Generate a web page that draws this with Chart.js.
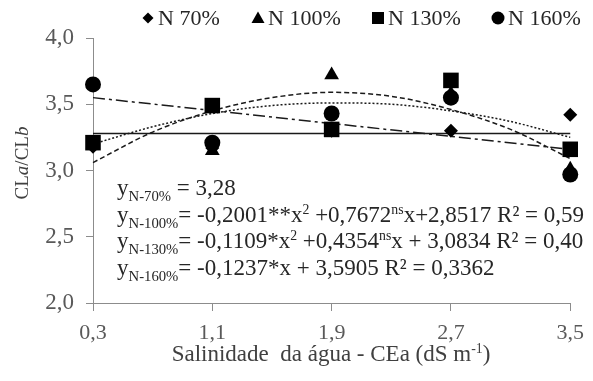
<!DOCTYPE html>
<html>
<head>
<meta charset="utf-8">
<title>CLa/CLb</title>
<script src="https://cdn.jsdelivr.net/npm/chart.js@4.4.1/dist/chart.umd.min.js"></script>
<style>
    html, body { margin: 0; padding: 0; background: #ffffff; }
    canvas { display: block; }
</style>
</head>
<body>
<canvas id="clChart" width="593" height="381"></canvas>
<script>

// =============================
// Data
// =============================

const salinity = [0.3, 1.1, 1.9, 2.7, 3.5];
const xTickLabels = ["0,3", "1,1", "1,9", "2,7", "3,5"];

const yTickValues = [2.0, 2.5, 3.0, 3.5, 4.0];
const yTickLabels = ["2,0", "2,5", "3,0", "3,5", "4,0"];

const seriesNames = ["N 70%", "N 100%", "N 130%", "N 160%"];

const n70 = [3.18, 3.17, 3.30, 3.30, 3.42];
const n100 = [3.20, 3.15, 3.72, 3.58, 3.01];
const n130 = [3.21, 3.49, 3.31, 3.68, 3.16];
const n160 = [3.65, 3.21, 3.43, 3.55, 2.97];

// trend lines
const lineEnds = [0.3, 3.5];
const curveX = [0.3, 0.7, 1.1, 1.5, 1.9, 2.3, 2.7, 3.1, 3.5];

const trend70 = [3.28, 3.28];
const trend100 = [3.06, 3.29, 3.45, 3.55, 3.59, 3.56, 3.46, 3.31, 3.09];
const trend130 = [3.20, 3.33, 3.43, 3.49, 3.51, 3.50, 3.45, 3.37, 3.25];
const trend160 = [3.55, 3.16];

// equations: [text, kind]  kind = "" | "sub" | "sup"
const equations = [
    [["y", ""], ["N-70%", "sub"], [" = 3,28", ""]],
    [["y", ""], ["N-100%", "sub"], ["= -0,2001**x", ""], ["2", "sup"], [" +0,7672", ""], ["ns", "sup"], ["x+2,8517 R\u00b2 = 0,59", ""]],
    [["y", ""], ["N-130%", "sub"], ["= -0,1109*x", ""], ["2", "sup"], [" +0,4354", ""], ["ns", "sup"], ["x + 3,0834 R\u00b2 = 0,40", ""]],
    [["y", ""], ["N-160%", "sub"], ["= -0,1237*x + 3,5905 R\u00b2 = 0,3362", ""]]
];

const yTitle = [["CL", ""], ["a", "i"], ["/CL", ""], ["b", "i"]];
const xTitle = [["Salinidade  da \u00e1gua - CEa (dS m", ""], ["-1", "sup"], [")", ""]];


// =============================
// Helpers
// =============================

const SERIF = "'Liberation Serif', 'Times New Roman', serif";

function toPoints(xs, ys) {
    return xs.map((x, i) => ({ x: x, y: ys[i] }));
}

function segFont(kind, size) {
    let fs = size;
    let style = kind === "i" ? "italic " : "";
    if (kind === "sub") fs = size * 0.64;
    if (kind === "sup") fs = size * 0.6;
    return style + fs + "px " + SERIF;
}

function drawRich(ctx, segs, x, y, size) {
    let cx = x;
    segs.forEach(([txt, kind]) => {
        let dy = 0;
        if (kind === "sub") dy = size * 0.24;
        if (kind === "sup") dy = -size * 0.36;
        ctx.font = segFont(kind, size);
        ctx.fillText(txt, cx, y + dy);
        cx += ctx.measureText(txt).width;
    });
    return cx - x;
}

function richWidth(ctx, segs, size) {
    let w = 0;
    segs.forEach(([txt, kind]) => {
        ctx.font = segFont(kind, size);
        w += ctx.measureText(txt).width;
    });
    return w;
}

function drawMarker(ctx, style, x, y) {
    ctx.beginPath();
    if (style === "rectRot") {
        ctx.moveTo(x - 5.5, y); ctx.lineTo(x, y - 5.5); ctx.lineTo(x + 5.5, y); ctx.lineTo(x, y + 5.5);
    } else if (style === "triangle") {
        ctx.moveTo(x, y - 6.5); ctx.lineTo(x + 6.5, y + 5); ctx.lineTo(x - 6.5, y + 5);
    } else if (style === "rect") {
        ctx.rect(x - 6, y - 6, 12, 12);
    } else {
        ctx.arc(x, y, 6.5, 0, Math.PI * 2);
    }
    ctx.closePath();
    ctx.fill();
}


// =============================
// Text plugin (legend, equations, titles)
// =============================

const markerStyles = ["rectRot", "triangle", "rect", "circle"];
const legendX = [148, 258, 378, 498];

const textPlugin = {
    id: "textPlugin",
    afterDraw(chart) {
        const ctx = chart.ctx;
        ctx.save();
        ctx.textBaseline = "alphabetic";
        ctx.textAlign = "left";

        // legend
        seriesNames.forEach((name, i) => {
            ctx.fillStyle = "#000000";
            drawMarker(ctx, markerStyles[i], legendX[i], 18);
            ctx.fillStyle = "#262626";
            ctx.font = "22px " + SERIF;
            ctx.fillText(name, legendX[i] + 10, 25);
        });

        // equations
        ctx.fillStyle = "#262626";
        const baselines = [195, 222, 248, 275];
        equations.forEach((eq, i) => {
            drawRich(ctx, eq, 117, baselines[i], 23);
        });

        // x title
        ctx.fillStyle = "#404040";
        const xw = richWidth(ctx, xTitle, 23);
        drawRich(ctx, xTitle, 331 - xw / 2, 361, 23);

        // y title
        ctx.translate(28, 163);
        ctx.rotate(-Math.PI / 2);
        const yw = richWidth(ctx, yTitle, 19);
        drawRich(ctx, yTitle, -yw / 2, 0, 19);

        ctx.restore();
    }
};


// =============================
// Chart
// =============================

const lineColor = "#1a1a1a";

function scatterSet(label, values, style, radius) {
    return {
        type: "scatter",
        label: label,
        data: toPoints(salinity, values),
        pointStyle: style,
        pointRadius: radius,
        pointHoverRadius: radius,
        backgroundColor: "#000000",
        borderColor: "#000000",
        borderWidth: 0,
        clip: false
    };
}

function trendSet(label, xs, values, dash) {
    return {
        type: "line",
        label: label,
        data: toPoints(xs, values),
        borderColor: lineColor,
        borderWidth: 1.5,
        borderDash: dash,
        pointRadius: 0,
        tension: 0.4,
        cubicInterpolationMode: "monotone",
        fill: false,
        clip: false
    };
}

new Chart(document.getElementById("clChart"), {
    data: {
        datasets: [
            scatterSet(seriesNames[0], n70, "rectRot", 7),
            scatterSet(seriesNames[1], n100, "triangle", 8.5),
            scatterSet(seriesNames[2], n130, "rect", 11),
            scatterSet(seriesNames[3], n160, "circle", 8),
            trendSet("trend 70", lineEnds, trend70, []),
            trendSet("trend 100", curveX, trend100, [5, 3]),
            trendSet("trend 130", curveX, trend130, [2, 2]),
            trendSet("trend 160", lineEnds, trend160, [12, 4, 3, 4])
        ]
    },
    options: {
        responsive: false,
        animation: false,
        layout: {
            padding: { top: 38, right: 14, left: 0, bottom: 0 }
        },
        plugins: {
            legend: { display: false },
            tooltip: { enabled: false }
        },
        scales: {
            x: {
                type: "linear",
                min: 0.3,
                max: 3.5,
                afterBuildTicks: (s) => { s.ticks = salinity.map(v => ({ value: v })); },
                afterFit: (s) => { s.height = 78; },
                ticks: {
                    callback: (v, i) => xTickLabels[i],
                    color: "#595959",
                    font: { family: SERIF, size: 22 },
                    padding: 9,
                    maxRotation: 0
                },
                grid: {
                    drawOnChartArea: false,
                    drawTicks: true,
                    tickLength: 8,
                    color: "#8c8c8c"
                },
                border: { color: "#8c8c8c", width: 1 }
            },
            y: {
                type: "linear",
                min: 2,
                max: 4,
                afterBuildTicks: (s) => { s.ticks = yTickValues.map(v => ({ value: v })); },
                afterFit: (s) => { s.width = 93; },
                ticks: {
                    callback: (v, i) => yTickLabels[i],
                    color: "#595959",
                    font: { family: SERIF, size: 23 },
                    padding: 12
                },
                grid: {
                    drawOnChartArea: false,
                    drawTicks: true,
                    tickLength: 7,
                    color: "#8c8c8c"
                },
                border: { color: "#8c8c8c", width: 1 }
            }
        }
    },
    plugins: [textPlugin]
});

</script>
</body>
</html>
